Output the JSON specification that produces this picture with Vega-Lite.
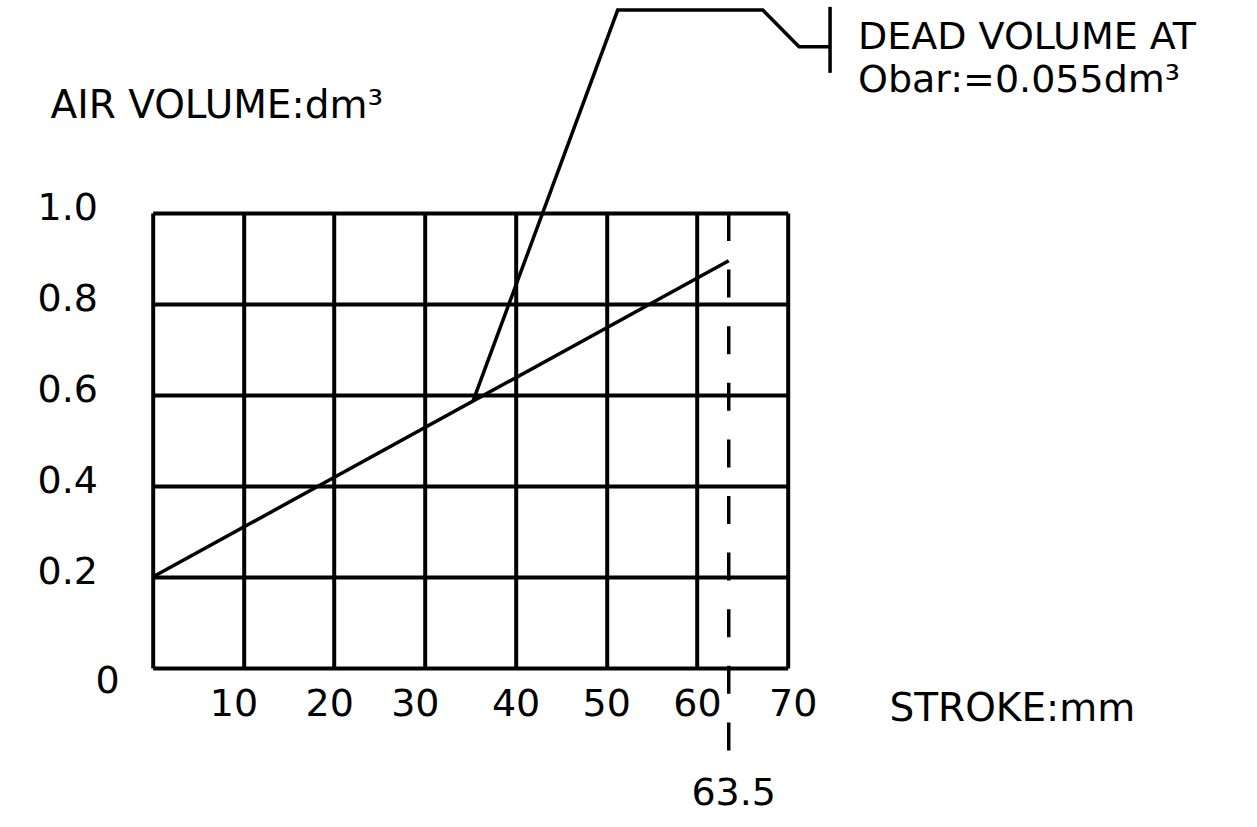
{
  "$schema": "https://vega.github.io/schema/vega-lite/v6.json",
  "width": 635,
  "height": 455,
  "autosize": "none",
  "padding": {"left": 152.7, "top": 213, "right": 469.3, "bottom": 159},
  "background": "white",
  "config": {"view": {"stroke": null}, "font": "DejaVu Sans"},
  "encoding": {
    "x": {
      "field": "x",
      "type": "quantitative",
      "scale": {"domain": [0, 70], "nice": false, "zero": false},
      "axis": {
        "values": [0, 10, 20, 30, 40, 50, 60, 70],
        "grid": true,
        "gridColor": "black",
        "gridWidth": 4,
        "gridOpacity": 1,
        "domain": false,
        "ticks": false,
        "tickSize": 0,
        "labelExpr": "datum.value == 0 ? '' : datum.label",
        "labelFont": "DejaVu Sans",
        "labelFontSize": 38,
        "labelColor": "black",
        "labelBaseline": "alphabetic",
        "labelAlign": "center",
        "labelPadding": 47,
        "labelFlush": false,
        "labelOverlap": false,
        "labelBound": false,
        "labelOffset": {
          "condition": [
            {"test": "datum.value == 10", "value": -10},
            {"test": "datum.value == 20", "value": -5},
            {"test": "datum.value == 30", "value": -10},
            {"test": "datum.value == 70", "value": 5}
          ],
          "value": 0
        },
        "title": "STROKE:mm",
        "titleFont": "DejaVu Sans",
        "titleFontSize": 39,
        "titleFontWeight": "normal",
        "titleColor": "black",
        "titleAlign": "left",
        "titleBaseline": "alphabetic",
        "titleX": 736.3,
        "titleY": 52
      }
    },
    "y": {
      "field": "y",
      "type": "quantitative",
      "scale": {"domain": [0, 1], "nice": false, "zero": false},
      "axis": {
        "values": [0, 0.2, 0.4, 0.6, 0.8, 1],
        "grid": true,
        "gridColor": "black",
        "gridWidth": 4,
        "gridOpacity": 1,
        "domain": false,
        "ticks": false,
        "tickSize": 0,
        "labelExpr": "datum.value == 0 ? '0' : format(datum.value, '.1f')",
        "labelFont": "DejaVu Sans",
        "labelFontSize": 38,
        "labelColor": "black",
        "labelAlign": "left",
        "labelBaseline": "alphabetic",
        "labelPadding": {"condition": {"test": "datum.value == 0", "value": 57.7}, "value": 115.7},
        "labelOffset": {"condition": {"test": "datum.value == 0", "value": 24}, "value": 6},
        "labelFlush": false,
        "labelOverlap": false,
        "labelBound": false,
        "title": "AIR VOLUME:dm³",
        "titleFont": "DejaVu Sans",
        "titleFontSize": 39,
        "titleFontWeight": "normal",
        "titleColor": "black",
        "titleAngle": 0,
        "titleAlign": "left",
        "titleBaseline": "alphabetic",
        "titleX": -102.7,
        "titleY": -96
      }
    }
  },
  "layer": [
    {
      "data": {
        "values": [
          {"series": "volume", "i": 0, "x": 0, "y": 0.2},
          {"series": "volume", "i": 1, "x": 63.5, "y": 0.895},
          {"series": "leader", "i": 0, "x": 35.3, "y": 0.586},
          {"series": "leader", "i": 1, "x": 51.26, "y": 1.446},
          {"series": "leader", "i": 2, "x": 67.25, "y": 1.446},
          {"series": "leader", "i": 3, "x": 71.25, "y": 1.3655},
          {"series": "leader", "i": 4, "x": 74.67, "y": 1.3655}
        ]
      },
      "mark": {"type": "line", "color": "black", "strokeWidth": 3.5},
      "encoding": {
        "detail": {"field": "series"},
        "order": {"field": "i", "type": "quantitative"}
      }
    },
    {
      "data": {"values": [{"x": 63.5, "y": 1.0, "y2": -0.185}]},
      "mark": {"type": "rule", "color": "black", "strokeWidth": 3.5, "strokeDash": [28, 28.6], "strokeCap": "butt"},
      "encoding": {"y2": {"field": "y2"}}
    },
    {
      "data": {"values": [{"x": 74.67, "y": 1.453, "y2": 1.308}]},
      "mark": {"type": "rule", "color": "black", "strokeWidth": 3.5},
      "encoding": {"y2": {"field": "y2"}}
    },
    {
      "data": {
        "values": [
          {"x": 77.75, "y": 1.36, "label": "DEAD VOLUME AT"},
          {"x": 77.75, "y": 1.266, "label": "Obar:=0.055dm³"}
        ]
      },
      "mark": {"type": "text", "align": "left", "baseline": "alphabetic", "font": "DejaVu Sans", "fontSize": 38, "color": "black"},
      "encoding": {"text": {"field": "label"}}
    },
    {
      "data": {"values": [{"x": 63.5, "y": -0.301, "label": "63.5"}]},
      "mark": {"type": "text", "align": "center", "baseline": "alphabetic", "dx": 5, "font": "DejaVu Sans", "fontSize": 38, "color": "black"},
      "encoding": {"text": {"field": "label"}}
    }
  ]
}
